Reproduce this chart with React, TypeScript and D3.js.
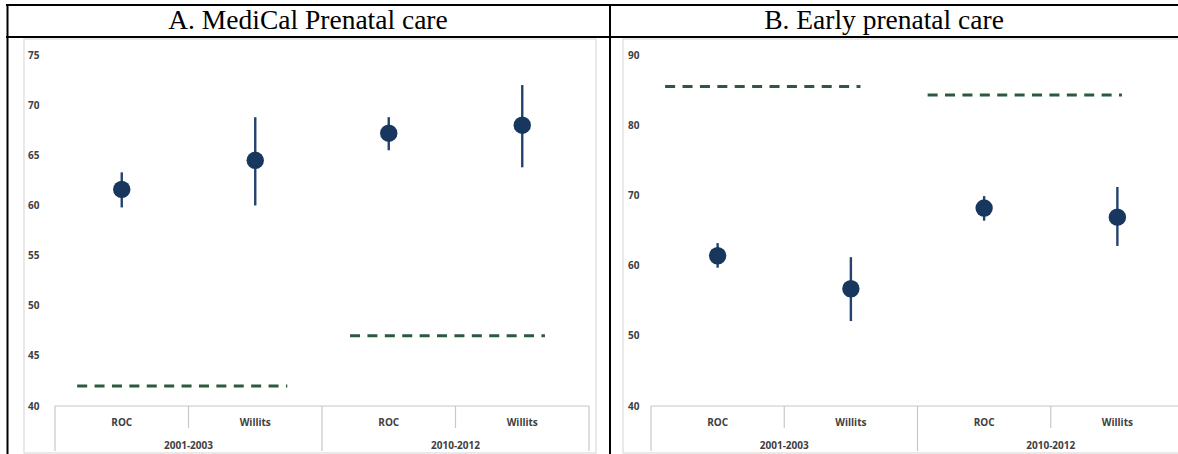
import React from "react";
import * as d3 from "d3";

// ---------- data ----------
const categories = ["ROC", "Willits", "ROC", "Willits"];
const groups = ["2001-2003", "2010-2012"];

const medicalPoint = [61.6, 64.5, 67.2, 68.0];
const medicalLow = [59.8, 60.0, 65.5, 63.8];
const medicalHigh = [63.3, 68.8, 68.8, 72.0];
const medicalBenchmark = [42.0, 47.0];
const medicalTicks = [40, 45, 50, 55, 60, 65, 70, 75];

const earlyPoint = [61.4, 56.7, 68.2, 66.9];
const earlyLow = [59.7, 52.1, 66.4, 62.8];
const earlyHigh = [63.2, 61.2, 69.9, 71.2];
const earlyBenchmark = [85.5, 84.3];
const earlyTicks = [40, 50, 60, 70, 80, 90];

const titles = ["A. MediCal Prenatal care", "B. Early prenatal care"];

// ---------- styles / layout ----------
const W = 1178;
const H = 454;
const DOT = "#17375e";
const BAR = "#24426e";
const DASH = "#2b5a3c";
const AXIS = "#c8c8c8";
const LABEL = "#404040";
const SANS = "'Open Sans', 'Liberation Sans', sans-serif";

type Panel = {
  title: string;
  titleX: number;
  frame: [number, number, number, number];
  xRange: [number, number];
  yDomain: [number, number];
  ticks: number[];
  tickX: number;
  point: number[];
  low: number[];
  high: number[];
  bench: number[];
  benchInset: [number, number][];
};

const panels: Panel[] = [
  {
    title: titles[0],
    titleX: 308,
    frame: [24, 39, 596, 453],
    xRange: [55, 589],
    yDomain: [40, 75],
    ticks: medicalTicks,
    tickX: 28,
    point: medicalPoint,
    low: medicalLow,
    high: medicalHigh,
    bench: medicalBenchmark,
    benchInset: [
      [0.083, 0.13],
      [0.105, 0.165],
    ],
  },
  {
    title: titles[1],
    titleX: 884,
    frame: [623, 39, 1200, 453],
    xRange: [651, 1184],
    yDomain: [40, 90],
    ticks: earlyTicks,
    tickX: 628,
    point: earlyPoint,
    low: earlyLow,
    high: earlyHigh,
    bench: earlyBenchmark,
    benchInset: [
      [0.053, 0.214],
      [0.038, 0.233],
    ],
  },
];

const PLOT_TOP = 55;
const PLOT_BOTTOM = 406;

function Chart({ p }: { p: Panel }) {
  const y = d3.scaleLinear().domain(p.yDomain).range([PLOT_BOTTOM, PLOT_TOP]);
  const x = d3
    .scaleBand<number>()
    .domain(d3.range(categories.length))
    .range(p.xRange)
    .padding(0);
  const g = d3
    .scaleBand<number>()
    .domain(d3.range(groups.length))
    .range(p.xRange)
    .padding(0);
  const bw = x.bandwidth();
  const gw = g.bandwidth();
  const [fx0, fy0, fx1, fy1] = p.frame;

  return (
    <g>
      <rect x={fx0} y={fy0} width={fx1 - fx0} height={fy1 - fy0} fill="#fff" stroke="#d4d4d4" strokeWidth={1} />
      {p.ticks.map((t) => (
        <text key={t} x={p.tickX} y={y(t)} dy="0.35em" fontFamily={SANS} fontWeight={700} fontSize={10} fill={LABEL}>
          {t}
        </text>
      ))}
      <line x1={p.xRange[0]} x2={p.xRange[1]} y1={PLOT_BOTTOM} y2={PLOT_BOTTOM} stroke={AXIS} strokeWidth={1.2} />
      {d3.range(categories.length + 1).map((i) => {
        const xx = p.xRange[0] + i * bw;
        const full = i % 2 === 0;
        return (
          <line key={i} x1={xx} x2={xx} y1={PLOT_BOTTOM} y2={full ? 451 : 428} stroke={AXIS} strokeWidth={1.2} />
        );
      })}
      {categories.map((c, i) => (
        <text key={i} x={(x(i) as number) + bw / 2} y={422} dy="0.35em" textAnchor="middle" fontFamily={SANS} fontWeight={700} fontSize={10} fill={LABEL}>
          {c}
        </text>
      ))}
      {groups.map((gr, i) => (
        <text key={gr} x={(g(i) as number) + gw / 2} y={445} dy="0.35em" textAnchor="middle" fontFamily={SANS} fontWeight={700} fontSize={10} fill={LABEL}>
          {gr}
        </text>
      ))}
      {p.bench.map((b, i) => {
        const gx = g(i) as number;
        return (
          <line
            key={i}
            x1={gx + p.benchInset[i][0] * gw}
            x2={gx + gw - p.benchInset[i][1] * gw}
            y1={y(b)}
            y2={y(b)}
            stroke={DASH}
            strokeWidth={3}
            strokeDasharray="10 7.4"
          />
        );
      })}
      {p.point.map((v, i) => {
        const cx = (x(i) as number) + bw / 2;
        return (
          <g key={i}>
            <line x1={cx} x2={cx} y1={y(p.low[i])} y2={y(p.high[i])} stroke={BAR} strokeWidth={2.4} />
            <circle cx={cx} cy={y(v)} r={8.7} fill={DOT} />
          </g>
        );
      })}
    </g>
  );
}

export default function App() {
  return (
    <svg
      width={W}
      height={H}
      style={{ position: "absolute", left: 0, top: 0, background: "#fff" }}
      xmlns="http://www.w3.org/2000/svg"
    >
      <rect x={0} y={0} width={W} height={H} fill="#fff" />
      {panels.map((p, i) => (
        <Chart key={i} p={p} />
      ))}
      <line x1={6} x2={W} y1={5} y2={5} stroke="#000" strokeWidth={2.2} />
      <line x1={6} x2={W} y1={37} y2={37} stroke="#000" strokeWidth={2} />
      <line x1={7.5} x2={7.5} y1={4} y2={H} stroke="#000" strokeWidth={2} />
      <line x1={610} x2={610} y1={4} y2={H} stroke="#000" strokeWidth={2} />
      {panels.map((p, i) => (
        <text key={i} x={p.titleX} y={29} textAnchor="middle" fontFamily="'Liberation Serif', 'Times New Roman', serif" fontSize={27.5} fill="#000">
          {p.title}
        </text>
      ))}
    </svg>
  );
}
